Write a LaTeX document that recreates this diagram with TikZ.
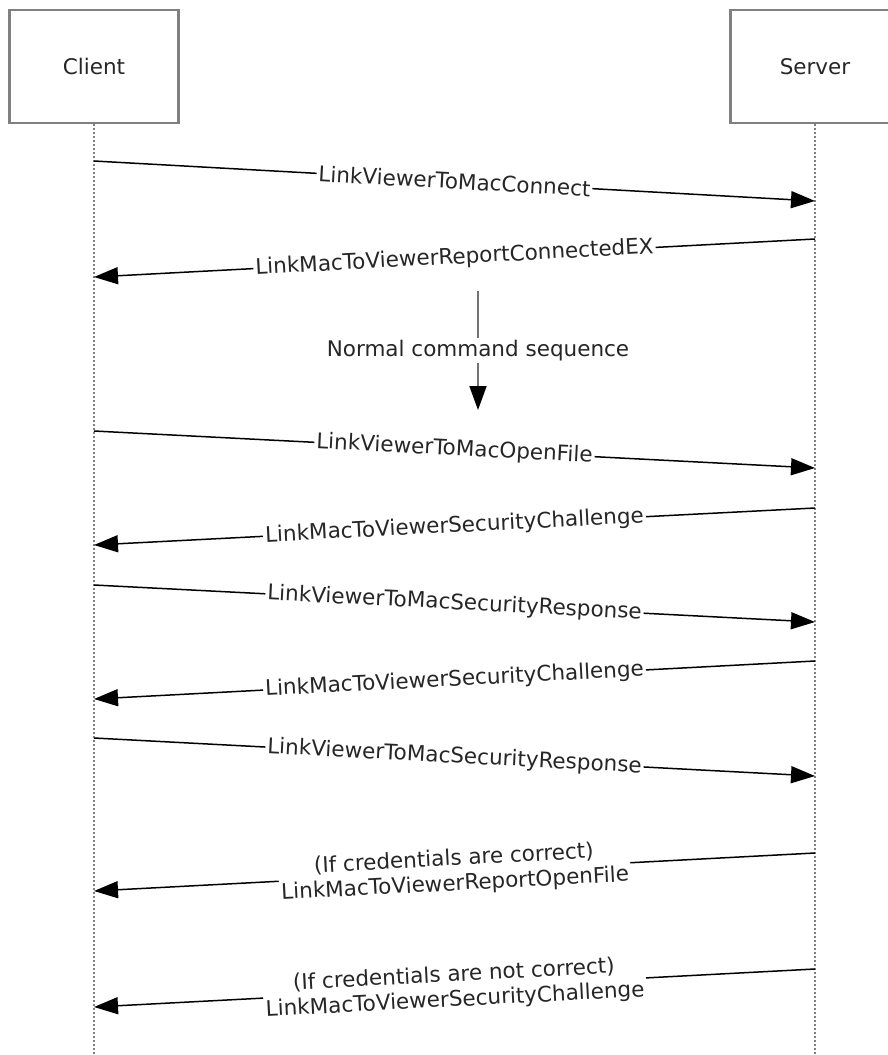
\documentclass[tikz,border=0pt]{standalone}
\usepackage{fontspec}
\setmainfont{DejaVu Sans}
\usepackage{tikz}
\usetikzlibrary{arrows.meta}

\begin{document}
\begin{tikzpicture}[x=1pt,y=-1pt]
	\tikzset{actor/.style={draw=gray,line width=2.5pt,minimum width=169pt,minimum height=113pt,text=black!85,
			font=\fontsize{21.5}{25}\selectfont},
		lifeline/.style={draw=gray,line width=2.5pt,dash pattern=on 2pt off 2pt},
		msg/.style={-{Triangle[length=24pt,width=17pt]},line width=1.5pt},
		lbl/.style={fill=white,sloped,inner sep=2pt,align=center,text=black!85,
			font=\fontsize{21.5}{25}\selectfont}};
	\useasboundingbox (0,0) rectangle (887,1055);
	\node[actor] (client) at (94,66.5) {Client};
	\node[actor] (server) at (815,66.5) {Server};
	\coordinate (clientend) at (94,1055);
	\coordinate (serverend) at (815,1055);
	\draw[lifeline] (client.south) -- (clientend);
	\draw[lifeline] (server.south) -- (serverend);
	% messages
	\foreach \n/\xa/\ya/\xb/\yb/\txt in {
		1/94/161/815/201/{LinkViewerToMacConnect},
		2/815/239/94/277/{LinkMacToViewerReportConnectedEX},
		3/94/431/815/468/{LinkViewerToMacOpenFile},
		4/815/508/94/545/{LinkMacToViewerSecurityChallenge},
		5/94/585/815/622/{LinkViewerToMacSecurityResponse},
		6/815/661/94/699/{LinkMacToViewerSecurityChallenge},
		7/94/738/815/776/{LinkViewerToMacSecurityResponse},
		8/815/853/94/891/{(If credentials are correct)\\LinkMacToViewerReportOpenFile},
		9/815/969/94/1007/{(If credentials are not correct)\\LinkMacToViewerSecurityChallenge}}
	{
		\coordinate (m\n a) at (\xa,\ya);
		\coordinate (m\n b) at (\xb,\yb);
		\draw[msg] (m\n a) -- node[lbl] {\txt} (m\n b);
	}
	% normal sequence
	\coordinate (seqtop) at (478,291);
	\coordinate (seqbot) at (478,410);
	\draw[-{Triangle[length=24pt,width=17pt,color=black]},line width=1.8pt,black!55] (seqtop) -- node[lbl,sloped=false] {Normal command sequence} (seqbot);
\end{tikzpicture}
\end{document}
